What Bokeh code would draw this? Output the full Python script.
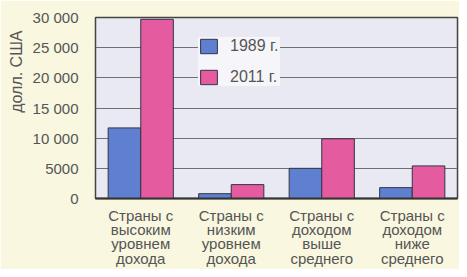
from bokeh.plotting import figure
from bokeh.models import ColumnDataSource, FactorRange, Range1d, Legend, LegendItem, Title, FixedTicker
from bokeh.transform import dodge
from bokeh.embed import file_html
from bokeh.resources import INLINE

categories = ["Страны с\nвысоким\nуровнем\nдохода", "Страны с\nнизким\nуровнем\nдохода",
              "Страны с\nдоходом\nвыше\nсреднего", "Страны с\nдоходом\nниже\nсреднего"]
v1989 = [11700, 800, 5000, 1800]
v2011 = [29700, 2300, 9900, 5400]
series = ["1989 г.", "2011 г."]
y_ticks = [0, 5000, 10000, 15000, 20000, 25000, 30000]
y_tick_labels = ["0", "5000", "10 000", "15 000", "20 000", "25 000", "30 000"]
y_label = "долл. США"

FONT = "Liberation Sans"
BG = "#f9f7e0"
src = ColumnDataSource(dict(cat=categories, a=v1989, b=v2011))

p = figure(width=459, height=269, x_range=FactorRange(*categories), y_range=Range1d(0, 30000),
           output_backend="svg", toolbar_location=None,
           background_fill_color="#e9e9f3", border_fill_color=BG,
           min_border_left=92, min_border_top=17, min_border_right=2, min_border_bottom=66)
p.x_range.range_padding = 0

r1 = p.vbar(x=dodge("cat", -0.18, range=p.x_range), top="a", width=0.36, source=src,
            fill_color="#5f80d0", line_color="#333344", line_width=1)
r2 = p.vbar(x=dodge("cat", 0.18, range=p.x_range), top="b", width=0.36, source=src,
            fill_color="#e45c9f", line_color="#333344", line_width=1)

p.yaxis.ticker = FixedTicker(ticks=y_ticks)
p.yaxis.major_label_overrides = {t: l for t, l in zip(y_ticks, y_tick_labels)}
p.yaxis.axis_line_color = None
p.yaxis.major_tick_line_color = None
p.yaxis.minor_tick_line_color = None
p.yaxis.major_label_text_font = FONT
p.yaxis.major_label_text_font_size = "15px"
p.yaxis.major_label_text_color = "#555555"
p.yaxis.major_label_standoff = 11

p.xaxis.axis_line_color = "#333333"
p.xaxis.axis_line_width = 2
p.xaxis.major_tick_line_color = None
p.xaxis.minor_tick_line_color = None
p.xaxis.major_label_text_font = FONT
p.xaxis.major_label_text_font_size = "15px"
p.xaxis.major_label_text_color = "#555555"
p.xaxis.major_label_text_line_height = 0.85
p.xaxis.major_label_standoff = 2
p.xaxis.major_label_orientation = "horizontal"

p.xgrid.grid_line_color = None
p.ygrid.grid_line_color = "#707070"
p.ygrid.grid_line_width = 1
p.outline_line_color = "#444444"
p.outline_line_width = 1.5

p.add_layout(Title(text=y_label, align="right", offset=13, text_font=FONT,
                   text_font_size="16px", text_font_style="normal", text_color="#555555"), "left")

legend = Legend(items=[LegendItem(label=series[0], renderers=[r1]),
                       LegendItem(label=series[1], renderers=[r2])],
                location=(103, 112), background_fill_color="#f6f6fa", background_fill_alpha=1,
                border_line_color=None, label_text_font=FONT, label_text_font_size="16px",
                label_text_color="#555555", glyph_width=21, glyph_height=18,
                label_standoff=11, spacing=13, padding=13, margin=0, label_height=18,
                label_width=50)
p.add_layout(legend)

open("out.html", "w").write(file_html(p, INLINE))
